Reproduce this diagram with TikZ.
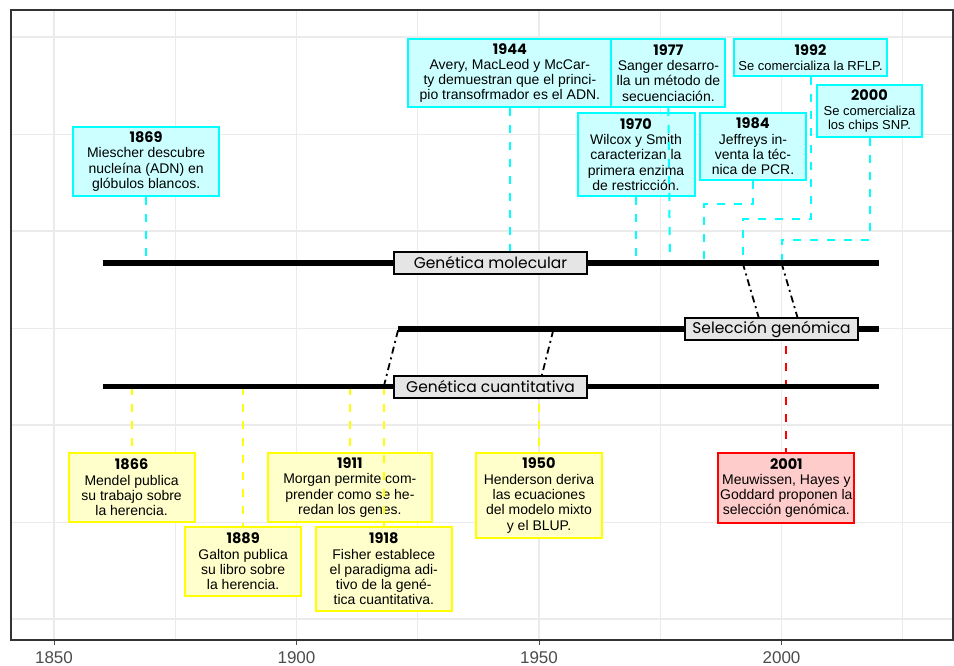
\documentclass[tikz,border=0pt]{standalone}
\usepackage{fontspec}
\setmainfont{Liberation Sans}
\newfontfamily\handfont{Poppins}
\usetikzlibrary{positioning}

\definecolor{molline}{HTML}{00FFFF}
\definecolor{molfill}{HTML}{CCFFFF}
\definecolor{quanline}{HTML}{FFFF00}
\definecolor{quanfill}{HTML}{FFFFCC}
\definecolor{selline}{HTML}{FF0000}
\definecolor{selfill}{HTML}{FFCCCC}
\definecolor{gridgray}{HTML}{EBEBEB}
\definecolor{fieldgray}{HTML}{E5E5E5}
\definecolor{axisgray}{HTML}{4D4D4D}
\definecolor{panelgray}{HTML}{333333}

\newcommand{\yr}[1]{(54+(#1-1850)*4.85)}
\newcommand{\eventyear}[1]{{\handfont\fontsize{14.5}{16.5}\selectfont\bfseries #1}}

\begin{document}
\begin{tikzpicture}[x=1pt, y=-1pt]

    \tikzset{
        event/.style = {rectangle, line width=2pt, inner sep=0pt, align=center, text=black, font=\fontsize{14}{15.3}\selectfont},
        molev/.style = {event, draw=molline, fill=molfill},
        quanev/.style = {event, draw=quanline, fill=quanfill},
        selev/.style = {event, draw=selline, fill=selfill},
        field/.style = {rectangle, draw=black, line width=1.5pt, fill=fieldgray, minimum height=22pt, inner sep=0pt, font=\handfont\fontsize{15.5}{18}\selectfont},
        timeline/.style = {line width=5.5pt},
        link/.style = {line width=2pt, dash pattern=on 8pt off 9pt},
        jump/.style = {line width=1.8pt, dash pattern=on 7pt off 4pt on 2pt off 4pt},
        majorgrid/.style = {gridgray, line width=1.1pt},
        minorgrid/.style = {gridgray, line width=0.55pt},
        ticklabel/.style = {text=axisgray, inner sep=0pt, font=\fontsize{17}{17}\selectfont}
    }

    \useasboundingbox (0,0) rectangle (954,666);
    \fill [white] (0,0) rectangle (954,666);

    \foreach \gy in {134,328,522} \draw [minorgrid] (11,\gy) -- (953,\gy);
    \foreach \gy in {37,231,425,619} \draw [majorgrid] (11,\gy) -- (953,\gy);
    \foreach \gx in {1875,1925,1975,2025} \draw [minorgrid] ({\yr{\gx}},10) -- ({\yr{\gx}},640);
    \foreach \gx in {1850,1900,1950,2000} {
        \draw [majorgrid] ({\yr{\gx}},10) -- ({\yr{\gx}},640);
        \draw [axisgray, line width=1pt] ({\yr{\gx}},640) -- ({\yr{\gx}},645);
        \node (tick\gx) [ticklabel] at ({\yr{\gx}},658) {\gx};
    }
    \draw [panelgray, line width=1.3pt] (11,10) rectangle (953,640);

    \foreach \yy in {1860,1869,1944,1970,1977,1984,1992,2000,2020} \coordinate (m\yy) at ({\yr{\yy}},263);
    \foreach \yy in {1921,1953,1996,2001,2004,2020} \coordinate (s\yy) at ({\yr{\yy}},329);
    \foreach \yy in {1860,1866,1889,1911,1918,1950,2020} \coordinate (q\yy) at ({\yr{\yy}},386.5);

    \node (e1869) [molev, minimum width=146pt, minimum height=69pt] at ({\yr{1869}},161.5) {\eventyear{1869}\\Miescher descubre\\nucleína (ADN) en\\glóbulos blancos.};
    \node (e1944) [molev, minimum width=203pt, minimum height=68pt] at ({\yr{1944}},73) {\eventyear{1944}\\Avery, MacLeod y McCar-\\ty demuestran que el princi-\\pio transofrmador es el ADN.};
    \node (e1977) [molev, minimum width=114pt, minimum height=68pt, right=-2pt of e1944] {\eventyear{1977}\\Sanger desarro-\\lla un método de\\secuenciación.};
    \node (e1970) [molev, minimum width=117pt, minimum height=83pt] at ({\yr{1970}},154.5) {\eventyear{1970}\\Wilcox y Smith\\caracterizan la\\primera enzima\\de restricción.};
    \node (e1984) [molev, minimum width=106pt, minimum height=67pt] at (753,146.5) {\eventyear{1984}\\Jeffreys in-\\venta la téc-\\nica de PCR.};
    \node (e1992) [molev, minimum width=153pt, minimum height=37pt, font=\fontsize{13}{14.5}\selectfont] at (810.5,57.5) {\eventyear{1992}\\Se comercializa la RFLP.};
    \node (e2000) [molev, minimum width=105pt, minimum height=52pt, font=\fontsize{13}{14.5}\selectfont] at (869.5,111) {\eventyear{2000}\\Se comercializa\\los chips SNP.};

    \node (e1866) [quanev, minimum width=126pt, minimum height=69pt] at ({\yr{1866}},487.5) {\eventyear{1866}\\Mendel publica\\su trabajo sobre\\la herencia.};
    \node (e1889) [quanev, minimum width=116pt, minimum height=69pt] at ({\yr{1889}},561.5) {\eventyear{1889}\\Galton publica\\su libro sobre\\la herencia.};
    \node (e1911) [quanev, minimum width=164pt, minimum height=69pt] at ({\yr{1911}},487.5) {\eventyear{1911}\\Morgan permite com-\\prender como se he-\\redan los genes.};
    \node (e1918) [quanev, minimum width=136pt, minimum height=84pt] at ({\yr{1918}},569) {\eventyear{1918}\\Fisher establece\\el paradigma adi-\\tivo de la gené-\\tica cuantitativa.};
    \node (e1950) [quanev, minimum width=126pt, minimum height=85pt] at ({\yr{1950}},495.5) {\eventyear{1950}\\Henderson deriva\\las ecuaciones\\del modelo mixto\\y el BLUP.};
    \node (e2001) [selev, minimum width=136pt, minimum height=70pt] at ({\yr{2001}},488) {\eventyear{2001}\\Meuwissen, Hayes y\\Goddard proponen la\\selección genómica.};

    \draw [link, molline] (e1869.south) -- (m1869);
    \draw [link, molline] (e1944.south) -- (m1944);
    \draw [link, molline] (e1977.south) -- (m1977);
    \draw [link, molline] (e1970.south) -- (m1970);
    \draw [link, molline] (e1984.south) -- ++(0,23) -| (m1984);
    \draw [link, molline] (e1992.south) -- ++(0,142) -| (m1992);
    \draw [link, molline] (e2000.south) -- ++(0,101.5) -| (m2000);
    \draw [link, quanline] (q1866) -- (e1866.north);
    \draw [link, quanline] (q1889) -- (e1889.north);
    \draw [link, quanline] (q1911) -- (e1911.north);
    \draw [link, quanline] (q1918) -- (e1918.north);
    \draw [link, quanline] (q1950) -- (e1950.north);
    \draw [link, selline] (s2001) -- (e2001.north);

    \draw [timeline] (m1860) -- (m2020);
    \draw [timeline] (s1921) -- (s2020);
    \draw [timeline] (q1860) -- (q2020);

    \draw [jump] (m1992) -- (s1996);
    \draw [jump] (m2000) -- (s2004);
    \draw [jump] (q1918) -- (s1921);
    \draw [jump] (q1950) -- (s1953);

    \node (molfield) [field, minimum width=193pt] at ({\yr{1940}},263) {Genética molecular};
    \node (selfield) [field, minimum width=173pt] at (771.5,329) {Selección genómica};
    \node (quanfield) [field, minimum width=193pt] at ({\yr{1940}},387) {Genética cuantitativa};

\end{tikzpicture}
\end{document}
